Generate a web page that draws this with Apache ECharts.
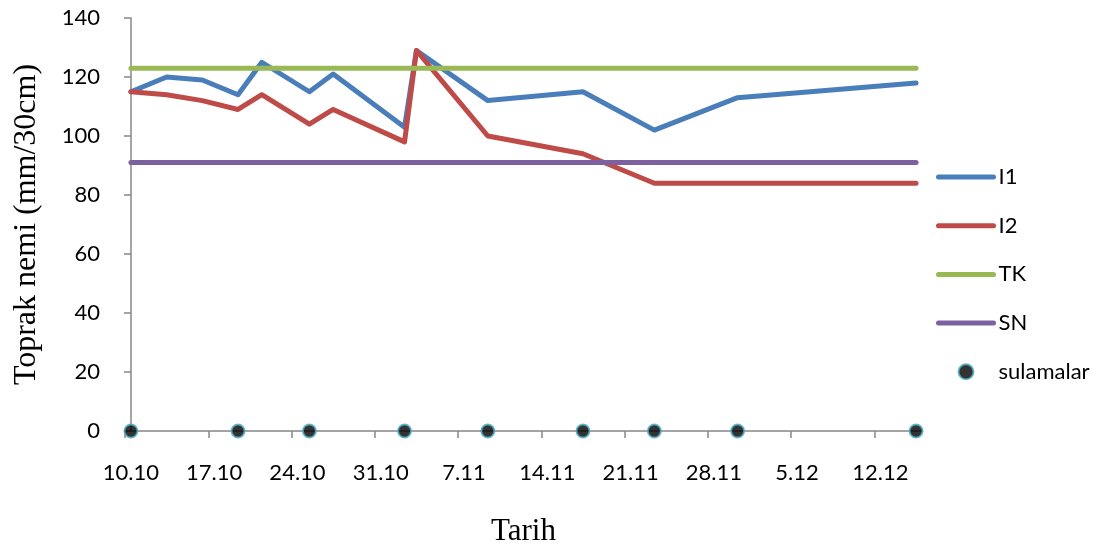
<!DOCTYPE html>
<html>
<head>
<meta charset="utf-8">
<script src="https://cdn.jsdelivr.net/npm/echarts@6/dist/echarts.min.js"></script>
<style>
  html, body { margin: 0; padding: 0; background: #fff; }
  #chart { width: 1111px; height: 552px; }
</style>
</head>
<body>
<div id="chart"></div>
<script>
// Measurement dates (day.month) and soil moisture of the two plots
const measureDates = ['10.10', '13.10', '16.10', '19.10', '21.10', '25.10', '27.10', '2.11', '3.11', '9.11', '17.11', '23.11', '30.11', '15.12'];
const i1Values = [115, 120, 119, 114, 125, 115, 121, 103, 129, 112, 115, 102, 113, 118];
const i2Values = [115, 114, 112, 109, 114, 104, 109, 98, 129, 100, 94, 84, 84, 84];

// Field capacity (TK) and lower limit (SN), constant over the season
const limitDates = ['10.10', '15.12'];
const tkValues = [123, 123];
const snValues = [91, 91];

// Irrigation days
const irrigationDates = ['10.10', '19.10', '25.10', '2.11', '9.11', '17.11', '23.11', '30.11', '15.12'];
const irrigationValues = [0, 0, 0, 0, 0, 0, 0, 0, 0];

// Date-axis labels, one per week
const tickLabels = ['10.10', '17.10', '24.10', '31.10', '7.11', '14.11', '21.11', '28.11', '5.12', '12.12'];

// Days counted from the first measurement day
const START = Date.UTC(2000, 9, 10);
function toDay(s) {
  const [d, m] = s.split('.').map(Number);
  return Math.round((Date.UTC(2000, m - 1, d) - START) / 86400000);
}
function pairs(dates, values) {
  return dates.map((s, i) => [toDay(s), values[i]]);
}

const labelDays = tickLabels.map(toDay);
const tickDays = labelDays.map(d => d - 0.5);
const lastDay = toDay(measureDates[measureDates.length - 1]);

const FONT = 'Lato';
const SERIF = 'Liberation Serif';
const AXIS_COLOR = '#878787';
const LINE_W = 5;

const lineSeries = (name, data, color) => ({
  name,
  type: 'line',
  data,
  symbol: 'none',
  lineStyle: { width: LINE_W, color, cap: 'round', join: 'round' },
  itemStyle: { color },
  animation: false
});

// Line entries in the legend show only the stroke, no marker
const lineLegend = name => ({ name, itemStyle: { opacity: 0 }, lineStyle: { width: LINE_W, cap: 'round' } });

const chart = echarts.init(document.getElementById('chart'), null, { renderer: 'canvas' });
chart.setOption({
  backgroundColor: '#ffffff',
  animation: false,
  grid: { left: 125, top: 18, width: 797, height: 416, containLabel: false },
  legend: {
    orient: 'vertical',
    left: 931,
    top: 161,
    itemWidth: 55,
    itemHeight: 15,
    itemGap: 26.7,
    lineStyle: { width: LINE_W, cap: 'round' },
    textStyle: { fontFamily: FONT, fontSize: 22, color: '#000' },
    data: [lineLegend('I1'), lineLegend('I2'), lineLegend('TK'), lineLegend('SN'), { name: 'sulamalar' }]
  },
  xAxis: {
    type: 'value',
    min: -0.5,
    max: lastDay + 0.5,
    name: 'Tarih',
    nameLocation: 'middle',
    nameGap: 85,
    nameTextStyle: { fontFamily: SERIF, fontSize: 31, color: '#000' },
    axisLine: { show: true, onZero: false, lineStyle: { color: AXIS_COLOR, width: 1.5 } },
    axisTick: { show: true, inside: false, length: 7, customValues: tickDays, lineStyle: { color: AXIS_COLOR, width: 1.5 } },
    axisLabel: {
      customValues: labelDays,
      margin: 31,
      fontFamily: FONT,
      fontSize: 22,
      color: '#000',
      formatter: v => tickLabels[labelDays.indexOf(Math.round(v))] || ''
    },
    splitLine: { show: false }
  },
  yAxis: {
    type: 'value',
    min: 0,
    max: 140,
    interval: 20,
    name: 'Toprak nemi (mm/30cm)',
    nameLocation: 'middle',
    nameRotate: 90,
    nameGap: 82,
    nameTextStyle: { fontFamily: SERIF, fontSize: 32, color: '#000' },
    axisLine: { show: true, lineStyle: { color: AXIS_COLOR, width: 1.5 } },
    axisTick: { show: true, inside: false, length: 7, lineStyle: { color: AXIS_COLOR, width: 1.5 } },
    axisLabel: { margin: 25, fontFamily: FONT, fontSize: 22, color: '#000' },
    splitLine: { show: false }
  },
  series: [
    lineSeries('I1', pairs(measureDates, i1Values), '#4A7EBB'),
    lineSeries('I2', pairs(measureDates, i2Values), '#BE4B48'),
    lineSeries('TK', pairs(limitDates, tkValues), '#98B954'),
    lineSeries('SN', pairs(limitDates, snValues), '#7D60A0'),
    {
      name: 'sulamalar',
      type: 'scatter',
      data: pairs(irrigationDates, irrigationValues),
      symbol: 'circle',
      symbolSize: 13,
      clip: false,
      itemStyle: { color: '#000000', borderColor: '#4BACC6', borderWidth: 2 },
      z: 5,
      animation: false
    }
  ]
});
</script>
</body>
</html>
